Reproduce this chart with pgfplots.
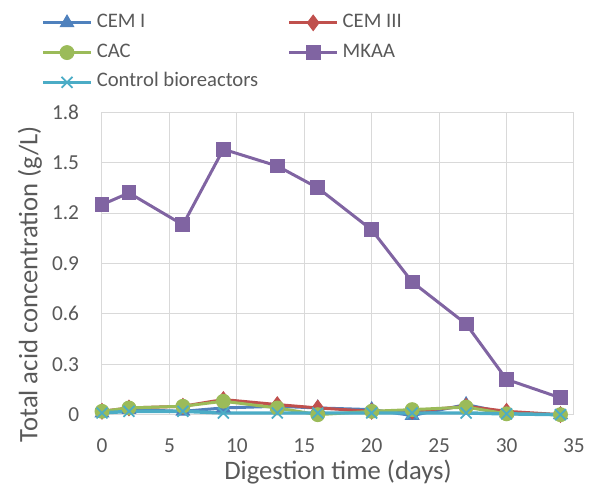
\documentclass[border=0pt]{standalone}
\usepackage{fontspec}
\setmainfont{Carlito}
\usepackage{pgfplots}
\pgfplotsset{compat=1.18}
\definecolor{cemI}{HTML}{4F81BD}
\definecolor{cemIII}{HTML}{C0504D}
\definecolor{cac}{HTML}{9BBB59}
\definecolor{mkaa}{HTML}{8064A2}
\definecolor{ctrl}{HTML}{4BACC6}
\definecolor{txt}{HTML}{595959}
\definecolor{grd}{HTML}{D9D9D9}
\begin{document}
\begin{tikzpicture}
\useasboundingbox (-76.5pt,-53.5pt) rectangle (366pt,311pt);
\begin{axis}[
  at={(0pt,0pt)}, anchor=south west,
  scale only axis, width=354pt, height=226.8pt,
  xmin=0, xmax=35, ymin=0, ymax=1.8,
  xtick={0,5,...,35}, ytick={0,0.3,0.6,0.9,1.2,1.5,1.8},
  yticklabels={0,0.3,0.6,0.9,1.2,1.5,1.8},
  grid=major, major grid style={draw=grd, line width=0.75pt},
  axis line style={draw=grd, line width=0.75pt},
  major tick length=0pt,
  tick label style={font=\fontsize{16}{19}\selectfont, text=txt},
  /pgf/number format/assume math mode=true,
  xticklabel style={anchor=base, inner sep=0pt, yshift=-28pt},
  yticklabel style={anchor=east, inner sep=0pt, xshift=-17pt},
  xlabel={Digestion time (days)}, ylabel={Total acid concentration (g/L)},
  label style={font=\fontsize{20}{24}\selectfont, text=txt},
  xlabel style={at={(rel axis cs:0.5,-0.216)}, anchor=base, inner sep=0pt},
  ylabel style={at={(rel axis cs:-0.1525,0.432)}, anchor=center},
  clip=false,
  legend columns=2,
  legend style={at={(rel axis cs:-0.1292,1.3297)}, anchor=north west, draw=none, fill=none, inner sep=0pt,
    font=\fontsize{15.5}{18}\selectfont, text=txt, row sep=7.3pt,
    nodes={inner sep=0pt, text height=11pt, text depth=4pt},
    /tikz/every odd column/.append style={column sep=3pt},
    /tikz/every even column/.append style={column sep=22pt}},
  legend cell align=left,
  legend image code/.code={\draw[mark repeat=2, mark phase=2] plot coordinates {(0pt,0pt) (18pt,0pt) (36pt,0pt)};},
  every axis plot/.append style={line width=2.25pt, mark options={solid, line width=0.75pt}},
]
\addplot[color=cemI, mark=triangle*, mark size=5.8pt] coordinates {
 (0,0.01) (2,0.03) (6,0.02) (9,0.04) (13,0.05) (16,0.04) (20,0.03) (23,-0.005) (27,0.06) (30,0.01) (34,0.00)};
\addlegendentry{CEM I}
\addplot[color=cemIII, mark=diamond*, mark size=5.8pt] coordinates {
 (0,0.02) (2,0.04) (6,0.05) (9,0.09) (13,0.06) (16,0.04) (20,0.02) (23,0.02) (27,0.05) (30,0.02) (34,0.00)};
\addlegendentry{CEM III}
\addplot[color=cac, mark=*, mark size=5.2pt] coordinates {
 (0,0.02) (2,0.04) (6,0.05) (9,0.08) (13,0.04) (16,0.00) (20,0.02) (23,0.03) (27,0.045) (30,0.005) (34,0.00)};
\addlegendentry{CAC}
\addplot[color=mkaa, mark=square*, mark size=5.2pt] coordinates {
 (0,1.25) (2,1.32) (6,1.13) (9,1.58) (13,1.48) (16,1.35) (20,1.10) (23,0.79) (27,0.54) (30,0.21) (34,0.10)};
\addlegendentry{MKAA}
\addplot[color=ctrl, line width=2.6pt, mark=x, mark size=5.8pt, mark options={line width=1.3pt}] coordinates {
 (0,0.01) (2,0.02) (6,0.02) (9,0.01) (13,0.01) (16,0.01) (20,0.01) (23,0.01) (27,0.01) (30,0.005) (34,0.00)};
\addlegendentry{Control bioreactors}
\end{axis}
\end{tikzpicture}
\end{document}
